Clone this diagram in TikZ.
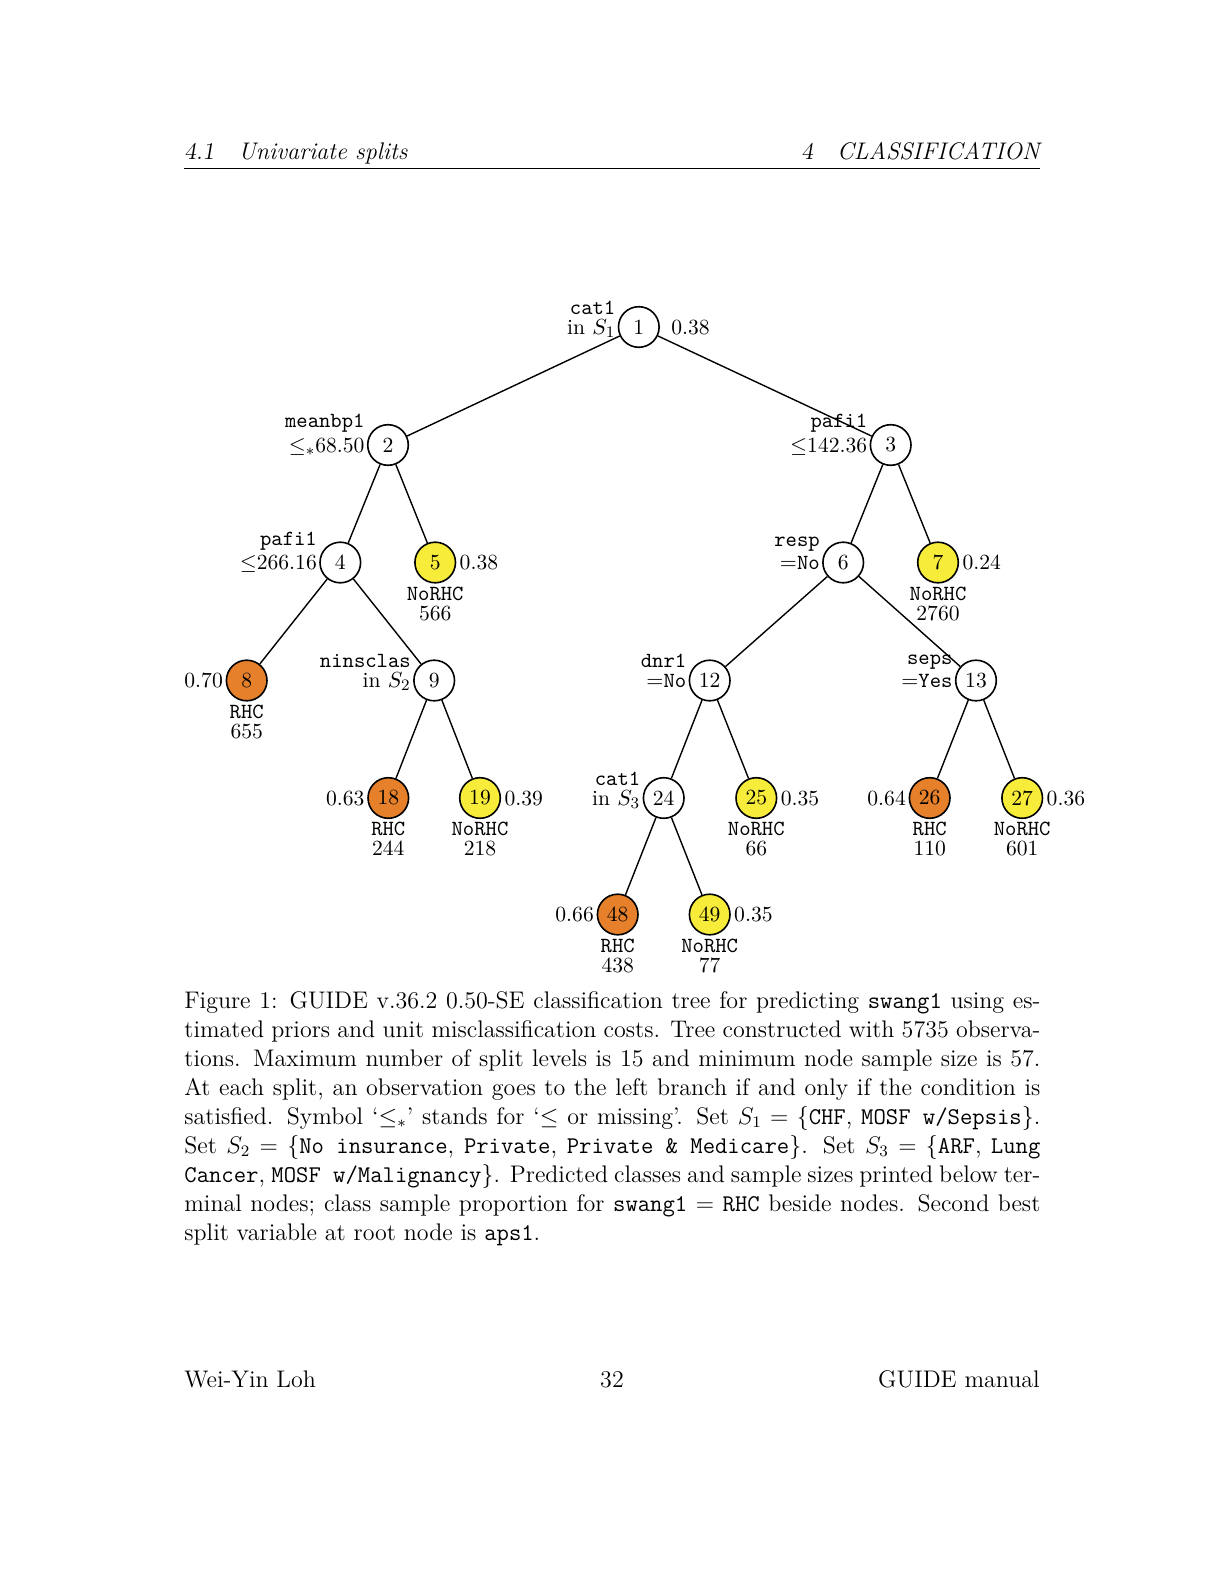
\documentclass[tikz,border=0pt,12pt]{standalone}
\usepackage{amsmath}
\definecolor{orangeN}{RGB}{230,128,42}
\definecolor{yellowN}{RGB}{248,236,58}
\newcommand\treefont{\fontsize{10.8}{12}\selectfont}
\tikzset{
  tn/.style={circle,draw,line width=0.8pt,minimum size=20.3pt,inner sep=0pt,font=\treefont,fill=white},
  lab/.style={inner sep=0pt,font=\treefont},
  edge/.style={line width=0.7pt},
  pagetext/.style={inner sep=0pt,font=\fontsize{12}{14.5}\selectfont}
}
\newcommand\SplitN[6][10pt]{%
  \node[tn] (n#2) at (#3,#4) {#2};
  \node[lab,anchor=base east] (lb#2) at ([xshift=-1pt,yshift=-3.5pt]n#2.west) {#6};
  \node[lab,anchor=base east] (la#2) at ([yshift=#1]lb#2.base east) {\texttt{#5}};}
\newcommand\TermN[6]{%
  \node[tn,fill=#4] (n#1) at (#2,#3) {#1};
  \node[lab,anchor=base] (c#1) at ([yshift=-18.75pt]n#1.center) {\texttt{#5}};
  \node[lab,anchor=base] (k#1) at ([yshift=-28.75pt]n#1.center) {#6};}
\newcommand\PropR[3][1.5pt]{%
  \node[lab,anchor=base west] (p#2) at ([xshift=#1,yshift=-3.5pt]n#2.east) {#3};}
\newcommand\PropL[2]{%
  \node[lab,anchor=base east] (p#1) at ([xshift=-1.2pt,yshift=-3.5pt]n#1.west) {#2};}
\begin{document}
\begin{tikzpicture}[x=0.5pt,y=-0.5pt]
\useasboundingbox[fill=white] (0,0) rectangle (1224,1584);
% header
\node[pagetext,anchor=base west] (hl) at (184,160) {{\slshape 4.1}\quad{\itshape Univariate splits}};
\node[pagetext,anchor=base east] (hr) at (1040,160) {{\slshape 4}\quad{\itshape CLASSIFICATION}};
\draw[line width=0.4pt] (184,168.3) -- (1040,168.3);
% tree
\SplitN{1}{638.8}{327}{cat1}{in $S_1$}
\PropR[5.5pt]{1}{0.38}
\SplitN[12.5pt]{2}{388}{445}{meanbp1}{$\le_*$68.50}
\SplitN[12.5pt]{3}{890.7}{445}{pafi1}{$\le$142.36}
\SplitN[12pt]{4}{340.3}{562.5}{pafi1}{$\le$266.16}
\TermN{5}{435.2}{562.5}{yellowN}{NoRHC}{566}
\PropR{5}{0.38}
\SplitN[11.5pt]{6}{843.2}{562.5}{resp}{$=$\texttt{No}}
\TermN{7}{938}{562.5}{yellowN}{NoRHC}{2760}
\PropR{7}{0.24}
\TermN{8}{246.7}{680.5}{orangeN}{RHC}{655}
\PropL{8}{0.70}
\SplitN{9}{434.2}{680.5}{ninsclas}{in $S_2$}
\SplitN{12}{709.7}{680.5}{dnr1}{$=$\texttt{No}}
\SplitN[11.5pt]{13}{976}{680.5}{seps}{$=$\texttt{Yes}}
\TermN{18}{388.3}{798}{orangeN}{RHC}{244}
\PropL{18}{0.63}
\TermN{19}{480}{798}{yellowN}{NoRHC}{218}
\PropR{19}{0.39}
\SplitN{24}{663.7}{798}{cat1}{in $S_3$}
\TermN{25}{756.3}{798}{yellowN}{NoRHC}{66}
\PropR{25}{0.35}
\TermN{26}{929.7}{798}{orangeN}{RHC}{110}
\PropL{26}{0.64}
\TermN{27}{1022.2}{798}{yellowN}{NoRHC}{601}
\PropR{27}{0.36}
\TermN{48}{617.7}{914.5}{orangeN}{RHC}{438}
\PropL{48}{0.66}
\TermN{49}{709.7}{914.5}{yellowN}{NoRHC}{77}
\PropR{49}{0.35}
\foreach \a/\b in {1/2,1/3,2/4,2/5,3/6,3/7,4/8,4/9,6/12,6/13,9/18,9/19,12/24,12/25,13/26,13/27,24/48,24/49}
  \draw[edge] (n\a) -- (n\b);
% caption
\node[pagetext,anchor=base west,text width=428pt,align=justify] (cap) at (184,1008) {%
Figure 1: GUIDE v.36.2 0.50-SE classification tree for predicting \texttt{swang1} using es-\linebreak
timated priors and unit misclassification costs. Tree constructed with 5735 observa-\linebreak
tions. Maximum number of split levels is 15 and minimum node sample size is 57.\linebreak
At each split, an observation goes to the left branch if and only if the condition is\linebreak
satisfied. Symbol `$\le_*$' stands for `$\le$ or missing'. Set $S_1=\{$\texttt{CHF}, \texttt{MOSF w/Sepsis}$\}$.\linebreak
Set $S_2=\{$\texttt{No insurance}, \texttt{Private}, \texttt{Private \& Medicare}$\}$. Set $S_3=\{$\texttt{ARF}, \texttt{Lung}\linebreak
\texttt{Cancer}, \texttt{MOSF w/Malignancy}$\}$. Predicted classes and sample sizes printed below ter-\linebreak
minal nodes; class sample proportion for \texttt{swang1} $=$ \texttt{RHC} beside nodes. Second best\linebreak
split variable at root node is \texttt{aps1}.};
% footer
\node[pagetext,anchor=base west] (fl) at (184,1387) {Wei-Yin Loh};
\node[pagetext,anchor=base] (fc) at (612,1387) {32};
\node[pagetext,anchor=base east] (fr) at (1040,1387) {GUIDE manual};
\end{tikzpicture}
\end{document}
